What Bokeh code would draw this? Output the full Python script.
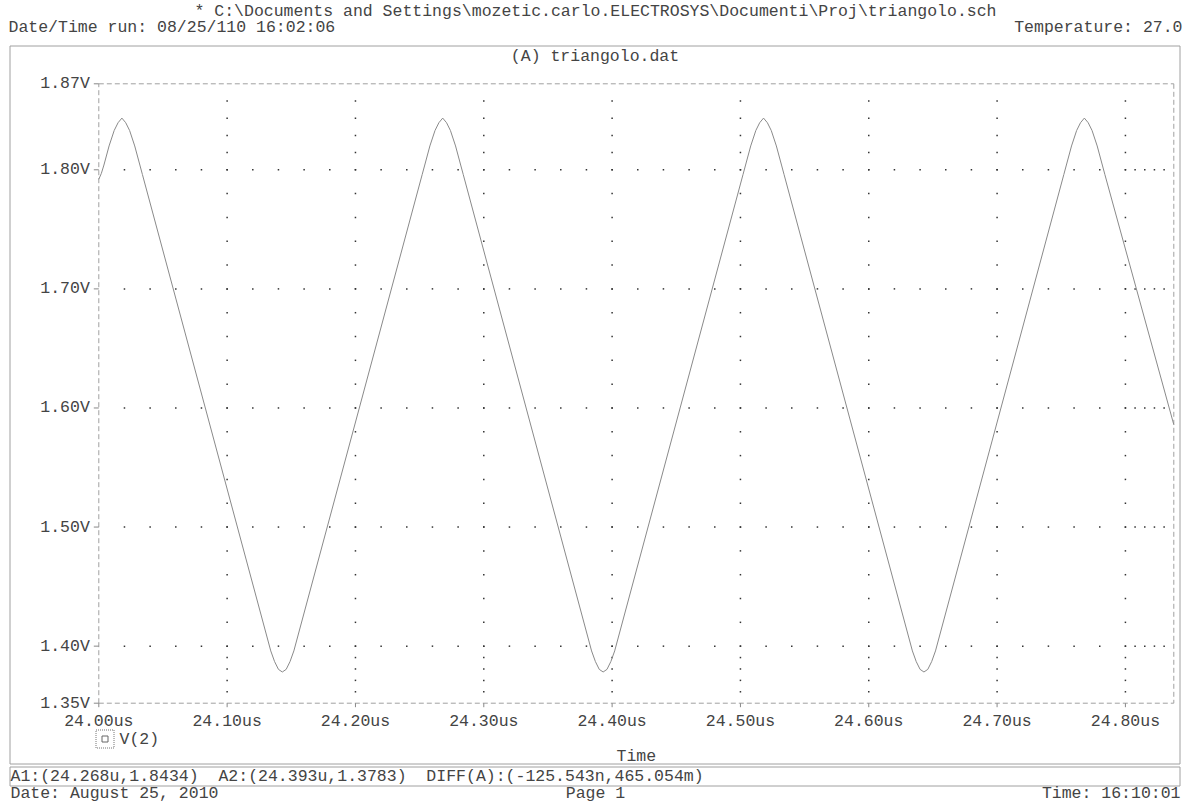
import numpy as np
from bokeh.plotting import figure
from bokeh.models import Range1d
from bokeh.core.properties import value
from bokeh.embed import file_html
from bokeh.resources import INLINE

# ---------------- data ----------------
time_us = [
    24.000, 24.002, 24.004, 24.008, 24.012, 24.015, 24.018, 24.021, 24.024, 24.028, 24.032, 24.034,
    24.134, 24.137, 24.140, 24.143, 24.146, 24.149, 24.152,
    24.252, 24.254, 24.258, 24.262, 24.265, 24.268, 24.271, 24.274, 24.278, 24.282, 24.284,
    24.384, 24.387, 24.390, 24.393, 24.396, 24.399, 24.402,
    24.502, 24.504, 24.508, 24.512, 24.515, 24.518, 24.521, 24.524, 24.528, 24.532, 24.534,
    24.634, 24.637, 24.640, 24.643, 24.646, 24.649, 24.652,
    24.752, 24.754, 24.758, 24.762, 24.765, 24.768, 24.771, 24.774, 24.778, 24.782, 24.784,
    24.8377,
]
v2_volts = [
    1.7920, 1.7970, 1.8040, 1.8200, 1.8330, 1.8395, 1.8434, 1.8395, 1.8330, 1.8200, 1.8040, 1.7960,
    1.3960, 1.3870, 1.3805, 1.3783, 1.3805, 1.3870, 1.3960,
    1.7960, 1.8040, 1.8200, 1.8330, 1.8395, 1.8434, 1.8395, 1.8330, 1.8200, 1.8040, 1.7960,
    1.3960, 1.3870, 1.3805, 1.3783, 1.3805, 1.3870, 1.3960,
    1.7960, 1.8040, 1.8200, 1.8330, 1.8395, 1.8434, 1.8395, 1.8330, 1.8200, 1.8040, 1.7960,
    1.3960, 1.3870, 1.3805, 1.3783, 1.3805, 1.3870, 1.3960,
    1.7960, 1.8040, 1.8200, 1.8330, 1.8395, 1.8434, 1.8395, 1.8330, 1.8200, 1.8040, 1.7960,
    1.5860,
]
x_limits = [24.0, 24.8377]
y_limits = [1.3521, 1.8722]
x_ticks = [24.0, 24.1, 24.2, 24.3, 24.4, 24.5, 24.6, 24.7, 24.8]
x_tick_labels = ["24.00us", "24.10us", "24.20us", "24.30us", "24.40us",
                 "24.50us", "24.60us", "24.70us", "24.80us"]
y_ticks = [1.40, 1.50, 1.60, 1.70, 1.80]
y_tick_labels = ["1.40V", "1.50V", "1.60V", "1.70V", "1.80V"]
y_end_labels = ["1.35V", "1.87V"]

header_file = "* C:\\Documents and Settings\\mozetic.carlo.ELECTROSYS\\Documenti\\Proj\\triangolo.sch"
header_run = "Date/Time run: 08/25/110 16:02:06"
header_temp = "Temperature: 27.0"
section_title = "(A) triangolo.dat"
trace_name = "V(2)"
x_axis_title = "Time"
cursor_text = "A1:(24.268u,1.8434) \u00a0A2:(24.393u,1.3783) \u00a0DIFF(A):(-125.543n,465.054m)"
footer_date = "Date: August 25, 2010"
footer_page = "Page 1"
footer_time = "Time: 16:10:01"

# ---------------- layout ----------------
W, H = 1190, 803
L, R, T, B = 98.3, 1173.3, 83.3, 702.7   # plot box in page pixels
X0, X1 = x_limits
Y0, Y1 = y_limits
kx = (R - L) / (X1 - X0)
ky = (B - T) / (Y1 - Y0)
xa, xb = X0 - L / kx, X1 + (W - R) / kx
ya, yb = Y0 - (H - B) / ky, Y1 + T / ky

FONT = value("Liberation Mono")
FS = "16.5px"
TXT = "#444444"
FRAME = "#a0a0a0"

p = figure(width=W, height=H, x_range=Range1d(xa, xb), y_range=Range1d(ya, yb),
           x_axis_type=None, y_axis_type=None, toolbar_location=None,
           output_backend="svg", min_border=0, outline_line_color=None,
           background_fill_color="white", border_fill_color="white")
p.extra_x_ranges = {"px": Range1d(0, W)}
p.extra_y_ranges = {"px": Range1d(H, 0)}

def ptext(x, y, t, align="left", **kw):
    p.text(x=[x], y=[y], text=[t], x_range_name="px", y_range_name="px",
           text_font=FONT, text_font_size=FS, text_color=TXT,
           text_align=align, text_baseline="middle", **kw)

# header
ptext(595, 10.5, header_file, "center")
ptext(8, 27, header_run, "left")
ptext(1182, 27, header_temp, "right")

# outer frame & cursor box
p.quad(left=[9.5], right=[1179.5], top=[45.5], bottom=[763.5],
       x_range_name="px", y_range_name="px", fill_color=None, line_color=FRAME, line_width=1)
p.quad(left=[9.5], right=[1179.5], top=[766.5], bottom=[785.5],
       x_range_name="px", y_range_name="px", fill_color=None, line_color=FRAME, line_width=1)
ptext(594.5, 56, section_title, "center")

# grid dots (dotted major grid, dot at every minor division)
sub_low = [Y0 + i * (y_ticks[0] - Y0) / 5 for i in range(1, 5)]
sub_mid = list(np.arange(y_ticks[0], y_ticks[-1] + 1e-9, 0.02))
sub_high = [y_ticks[-1] + i * (Y1 - y_ticks[-1]) / 5 for i in range(1, 5)]
ydots = sub_low + sub_mid + sub_high
gx, gy = [], []
for xt in x_ticks[1:]:
    for yd in ydots:
        gx.append(xt); gy.append(yd)
xdots = list(np.arange(x_ticks[0] + 0.02, x_ticks[-1] + 1e-9, 0.02)) + \
        [x_ticks[-1] + i * (X1 - x_ticks[-1]) / 5 for i in range(1, 5)]
for yt in y_ticks:
    for xd in xdots:
        gx.append(xd); gy.append(yt)
p.scatter(gx, gy, marker="square", size=1.5, fill_color="#333333", line_color=None)

# dashed plot border / axes
DASH = "5 3"
p.line([X0, X0], [Y0, Y1], line_color=FRAME, line_dash=DASH, line_width=1)
p.line([X0, X1], [Y1, Y1], line_color=FRAME, line_dash=DASH, line_width=1)
p.line([X1, X1], [Y1, Y0], line_color=FRAME, line_dash=DASH, line_width=1)
p.line([X0, X1], [Y0, Y0], line_color=FRAME, line_dash=DASH, line_width=1)

# ticks
ytick_all = [Y0] + y_ticks + [Y1]
p.ray(x=[X0] * len(ytick_all), y=ytick_all, length=5, length_units="screen",
      angle=np.pi, line_color="#888888", line_width=1)
p.ray(x=x_ticks, y=[Y0] * len(x_ticks), length=4, length_units="screen",
      angle=-np.pi / 2, line_color="#888888", line_width=1)

# tick labels
p.text(x=[X0] * len(y_ticks), y=y_ticks, text=y_tick_labels, x_offset=-9,
       text_font=FONT, text_font_size=FS, text_color=TXT,
       text_align="right", text_baseline="middle")
p.text(x=[X0, X0], y=[Y0, Y1], text=y_end_labels, x_offset=-9,
       text_font=FONT, text_font_size=FS, text_color=TXT,
       text_align="right", text_baseline="middle")
p.text(x=x_ticks, y=[721] * len(x_ticks), text=x_tick_labels, y_range_name="px",
       text_font=FONT, text_font_size=FS, text_color=TXT,
       text_align="center", text_baseline="middle")
p.text(x=[(X0 + X1) / 2], y=[755.5], text=[x_axis_title], y_range_name="px",
       text_font=FONT, text_font_size=FS, text_color=TXT,
       text_align="center", text_baseline="middle")

# legend
p.quad(left=[95.5], right=[113.5], top=[729.5], bottom=[747.5],
       x_range_name="px", y_range_name="px", fill_color=None,
       line_color="#777777", line_dash="1 1", line_width=1)
p.scatter(x=[104.5], y=[738.5], x_range_name="px", y_range_name="px",
          marker="square", size=6, fill_color=None, line_color="#666666", line_width=1)
ptext(119, 739, trace_name, "left")

# waveform
p.line(time_us, v2_volts, line_color="#8a8a8a", line_width=1)

# cursor + footer
ptext(10, 776, cursor_text, "left")
ptext(10, 793, footer_date, "left")
ptext(595, 793, footer_page, "center")
ptext(1180, 793, footer_time, "right")

open("out.html", "w").write(file_html(p, INLINE))
